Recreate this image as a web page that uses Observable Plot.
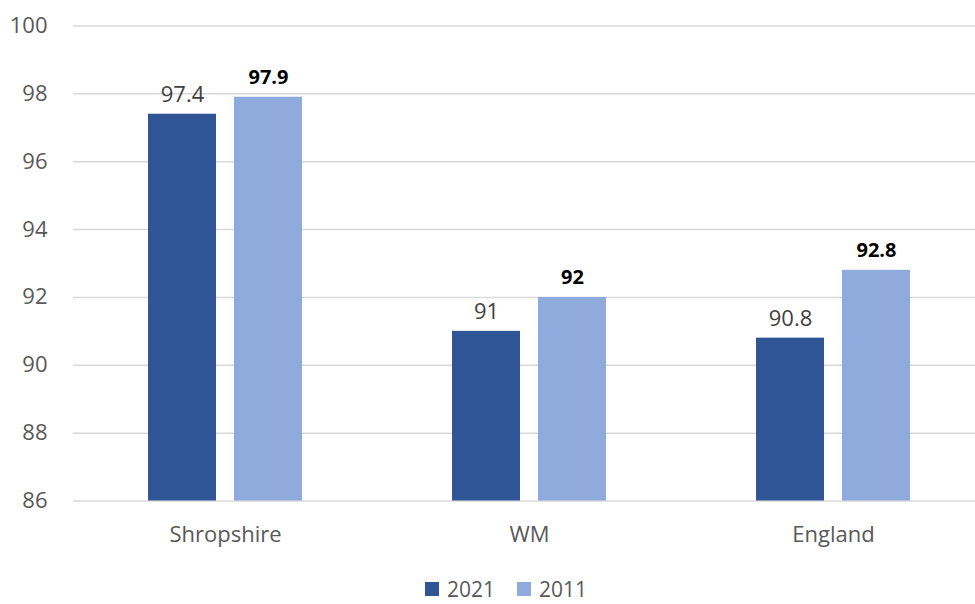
<!DOCTYPE html>
<html>
<head>
<meta charset="utf-8">
<script src="https://cdn.jsdelivr.net/npm/d3@7"></script>
<script src="https://cdn.jsdelivr.net/npm/@observablehq/plot@0.6"></script>
<style>
  body { margin: 0; background: #fff; }
  #wrap { position: relative; width: 975px; height: 604px; overflow: hidden; font-family: "Open Sans", sans-serif; }
  .legend { position: absolute; top: 577px; left: 0; display: flex; align-items: center; font-size: 21px; line-height: 24px; color: #595959; }
  .sw { display: inline-block; width: 14px; height: 14px; }
</style>
</head>
<body>
<div id="wrap"></div>
<script>
const categories = ["Shropshire", "WM", "England"];
const years = ["2021", "2011"];
const values2021 = [97.4, 91, 90.8];
const values2011 = [97.9, 92, 92.8];
const yTicks = [86, 88, 90, 92, 94, 96, 98, 100];
const colors = ["#2F5597", "#8FAADC"];

const yDomain = [86, 100];
const data = [];
categories.forEach((c, i) => {
  data.push({category: c, year: years[0], value: values2021[i]});
  data.push({category: c, year: years[1], value: values2011[i]});
});

const chart = Plot.plot({
  width: 975,
  height: 560,
  marginTop: 25.5,
  marginBottom: 59.5,
  marginLeft: 73,
  marginRight: 0,
  style: {fontSize: "22px", fontFamily: "Open Sans", color: "#595959", background: "#fff", overflow: "hidden"},
  facet: {data, x: "category"},
  fx: {domain: categories, padding: 0, range: [73, 985], axis: "bottom", tickSize: 0, tickPadding: 25, label: null},
  x: {domain: years, paddingInner: 0.215, paddingOuter: 0.862, axis: null},
  y: {domain: yDomain, ticks: yTicks, tickSize: 0, tickPadding: 26, label: null},
  color: {domain: years, range: colors},
  marks: [
    Plot.ruleY(yTicks, {stroke: "#D9D9D9", strokeWidth: 1.5}),
    Plot.barY(data, {x: "year", y1: yDomain[0], y2: "value", fill: "year"}),
    Plot.text(data, {filter: d => d.year === years[0], x: "year", y: "value", text: d => String(d.value), dy: -12, lineAnchor: "bottom", fill: "#404040", fontSize: 22}),
    Plot.text(data, {filter: d => d.year === years[1], x: "year", y: "value", text: d => String(d.value), dy: -13, lineAnchor: "bottom", fill: "#000", fontWeight: "bold", fontSize: 20})
  ]
});

const wrap = document.getElementById("wrap");
wrap.appendChild(chart);

const legend = document.createElement("div");
legend.className = "legend";
legend.style.left = "425px";
years.forEach((y, i) => {
  const sw = document.createElement("span");
  sw.className = "sw";
  sw.style.background = colors[i];
  sw.style.marginRight = "8px";
  const t = document.createElement("span");
  t.textContent = y;
  t.style.marginRight = i === 0 ? "22px" : "0";
  legend.appendChild(sw);
  legend.appendChild(t);
});
wrap.appendChild(legend);
</script>
</body>
</html>
